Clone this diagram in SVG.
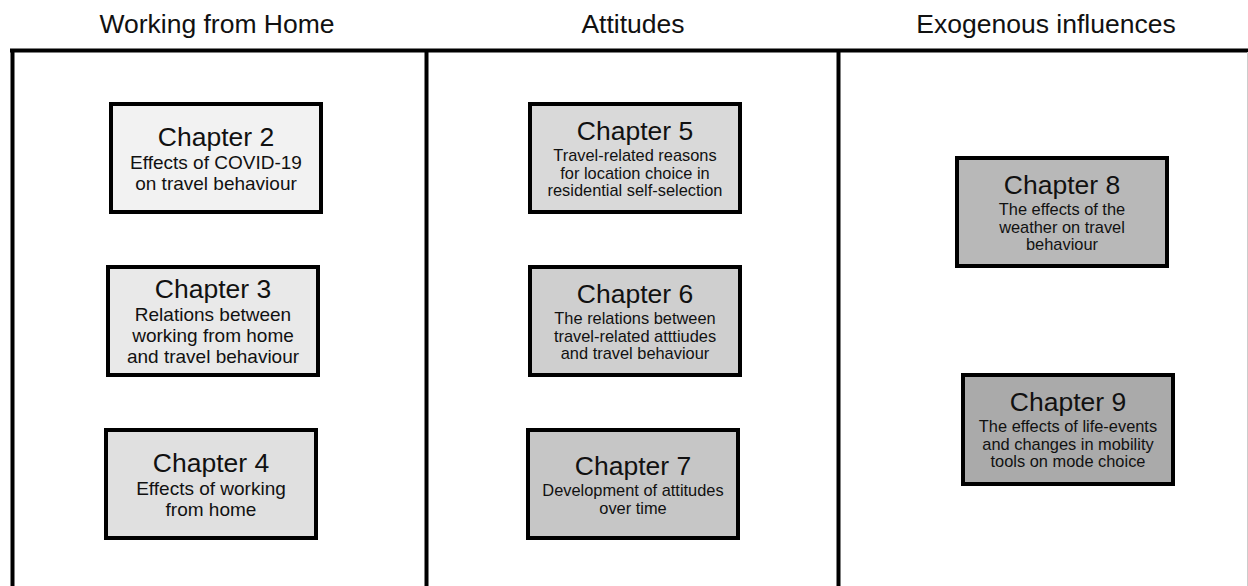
<svg xmlns="http://www.w3.org/2000/svg" width="1248" height="586" viewBox="0 0 1248 586">
  <style>
    text { font-family: "Liberation Sans", Arial, sans-serif; fill: #111; text-anchor: middle; }
    .head { font-size: 26.5px; }
    .title { font-size: 26.5px; }
    .sub { font-size: 19px; }
    .subs { font-size: 16.4px; }
    .box { stroke: #000; stroke-width: 4; }
    .frame { stroke: #000; stroke-width: 4; fill: none; }
  </style>
  <rect width="1248" height="586" fill="#fff"/>

  <!-- column headings -->
  <text class="head" x="217" y="33">Working from Home</text>
  <text class="head" x="633" y="33">Attitudes</text>
  <text class="head" x="1046" y="33">Exogenous influences</text>

  <!-- column frame -->
  <g id="frame">
    <line class="frame" x1="10" y1="50.5" x2="1248" y2="50.5"/>
    <line class="frame" x1="12.5" y1="49" x2="12.5" y2="586"/>
    <line class="frame" x1="426.5" y1="49" x2="426.5" y2="586"/>
    <line class="frame" x1="838.5" y1="49" x2="838.5" y2="586"/>
    <line x1="1247.5" y1="52" x2="1247.5" y2="586" stroke="#ccc" stroke-width="1"/>
  </g>

  <g id="connectors"></g>

  <g id="ch2">
    <rect class="box" x="111" y="104" width="210" height="108" fill="#f2f2f2"/>
    <text class="title" x="216" y="146">Chapter 2</text>
    <text class="sub" x="216" y="169">Effects of COVID-19</text>
    <text class="sub" x="216" y="190">on travel behaviour</text>
  </g>

  <g id="ch3">
    <rect class="box" x="108" y="267" width="210" height="108" fill="#e9e9e9"/>
    <text class="title" x="213" y="298">Chapter 3</text>
    <text class="sub" x="213" y="321">Relations between</text>
    <text class="sub" x="213" y="342">working from home</text>
    <text class="sub" x="213" y="363">and travel behaviour</text>
  </g>

  <g id="ch4">
    <rect class="box" x="106" y="430" width="210" height="108" fill="#e0e0e0"/>
    <text class="title" x="211" y="472">Chapter 4</text>
    <text class="sub" x="211" y="495">Effects of working</text>
    <text class="sub" x="211" y="516">from home</text>
  </g>

  <g id="ch5">
    <rect class="box" x="530" y="104" width="210" height="108" fill="#d9d9d9"/>
    <text class="title" x="635" y="140">Chapter 5</text>
    <text class="subs" x="635" y="161">Travel-related reasons</text>
    <text class="subs" x="635" y="179">for location choice in</text>
    <text class="subs" x="635" y="196">residential self-selection</text>
  </g>

  <g id="ch6">
    <rect class="box" x="530" y="267" width="210" height="108" fill="#cfcfcf"/>
    <text class="title" x="635" y="303">Chapter 6</text>
    <text class="subs" x="635" y="324">The relations between</text>
    <text class="subs" x="635" y="342">travel-related atttiudes</text>
    <text class="subs" x="635" y="359">and travel behaviour</text>
  </g>

  <g id="ch7">
    <rect class="box" x="528" y="430" width="210" height="108" fill="#c6c6c6"/>
    <text class="title" x="633" y="475">Chapter 7</text>
    <text class="subs" x="633" y="496">Development of attitudes</text>
    <text class="subs" x="633" y="514">over time</text>
  </g>

  <g id="ch8">
    <rect class="box" x="957" y="158" width="210" height="108" fill="#b8b8b8"/>
    <text class="title" x="1062" y="194">Chapter 8</text>
    <text class="subs" x="1062" y="215">The effects of the</text>
    <text class="subs" x="1062" y="233">weather on travel</text>
    <text class="subs" x="1062" y="250">behaviour</text>
  </g>

  <g id="ch9">
    <rect class="box" x="963" y="375" width="210" height="109" fill="#aaaaaa"/>
    <text class="title" x="1068" y="411">Chapter 9</text>
    <text class="subs" x="1068" y="432">The effects of life-events</text>
    <text class="subs" x="1068" y="450">and changes in mobility</text>
    <text class="subs" x="1068" y="467">tools on mode choice</text>
  </g>
</svg>
